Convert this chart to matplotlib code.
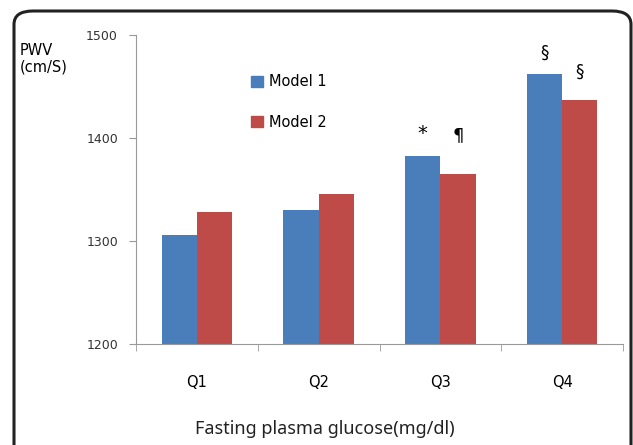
import numpy as np
import matplotlib
matplotlib.use("Agg")
import matplotlib.pyplot as plt
from matplotlib.patches import FancyBboxPatch, Patch

# data
quartiles = ["Q1", "Q2", "Q3", "Q4"]
model1 = [1306, 1330, 1383, 1462]
model2 = [1328, 1346, 1365, 1437]
marks1 = ["", "", "*", "§"]
marks2 = ["", "", "¶", "§"]
yticks = [1200, 1300, 1400, 1500]

blue = "#4A7EBB"
red = "#BE4B48"

fig = plt.figure(figsize=(6.33, 4.45), dpi=100)

# rounded frame around the whole chart
frame = FancyBboxPatch((14 / 633, -0.2), 617 / 633, 1 - 11 / 445 + 0.2,
                       boxstyle="round,pad=0,rounding_size=0.03",
                       transform=fig.transFigure, fill=False,
                       edgecolor="#222222", linewidth=2.2)
fig.patches.append(frame)

ax = fig.add_axes([136 / 633, 1 - 344 / 445, 487 / 633, 309 / 445])

x = np.arange(len(quartiles))
w = 0.29
ax.bar(x - w / 2, model1, w, color=blue, label="Model 1")
ax.bar(x + w / 2, model2, w, color=red, label="Model 2")

# significance marks (centred a bit above the bars)
off2 = [0, 0, 38, 27]
for i in range(len(quartiles)):
    if marks1[i]:
        ax.text(x[i] - w / 2, model1[i] + 21, marks1[i], ha="center", va="center",
                fontsize=14 if marks1[i] == "*" else 12)
    if marks2[i]:
        ax.text(x[i] + w / 2, model2[i] + off2[i], marks2[i], ha="center", va="center",
                fontsize=13 if marks2[i] == "¶" else 12)

ax.set_ylim(1200, 1500)
ax.set_xlim(-0.5, len(quartiles) - 0.5)
ax.set_yticks(yticks)
ax.set_yticklabels([str(v) for v in yticks], fontsize=9, color="#333333")
ax.set_xticks(x)
ax.set_xticklabels(quartiles, fontsize=10.5)
ax.set_xticks(np.arange(len(quartiles) + 1) - 0.5, minor=True)
ax.tick_params(axis="x", which="major", length=0, pad=22)
ax.tick_params(axis="x", which="minor", length=5, color="#999999")
ax.tick_params(axis="y", length=5, color="#999999", pad=8)

for s in ["top", "right"]:
    ax.spines[s].set_visible(False)
ax.spines["left"].set_color("#999999")
ax.spines["bottom"].set_color("#999999")

fig.text(20 / 633, 1 - 59 / 445, "PWV\n(cm/S)", fontsize=10.5, va="center", ha="left",
         linespacing=1.1)
fig.text(325 / 633, 1 - 429 / 445, "Fasting plasma glucose(mg/dl)", fontsize=13,
         ha="center", va="center", family="Noto Sans", color="#222222")

handles = [Patch(color=blue), Patch(color=red)]
ax.legend(handles, ["Model 1", "Model 2"], loc="upper left", frameon=False,
          bbox_to_anchor=(0.21, 0.915), handlelength=0.8, handleheight=0.8,
          handletextpad=0.4, labelspacing=1.75, fontsize=10.5)

fig.savefig("out.png", dpi=100)
